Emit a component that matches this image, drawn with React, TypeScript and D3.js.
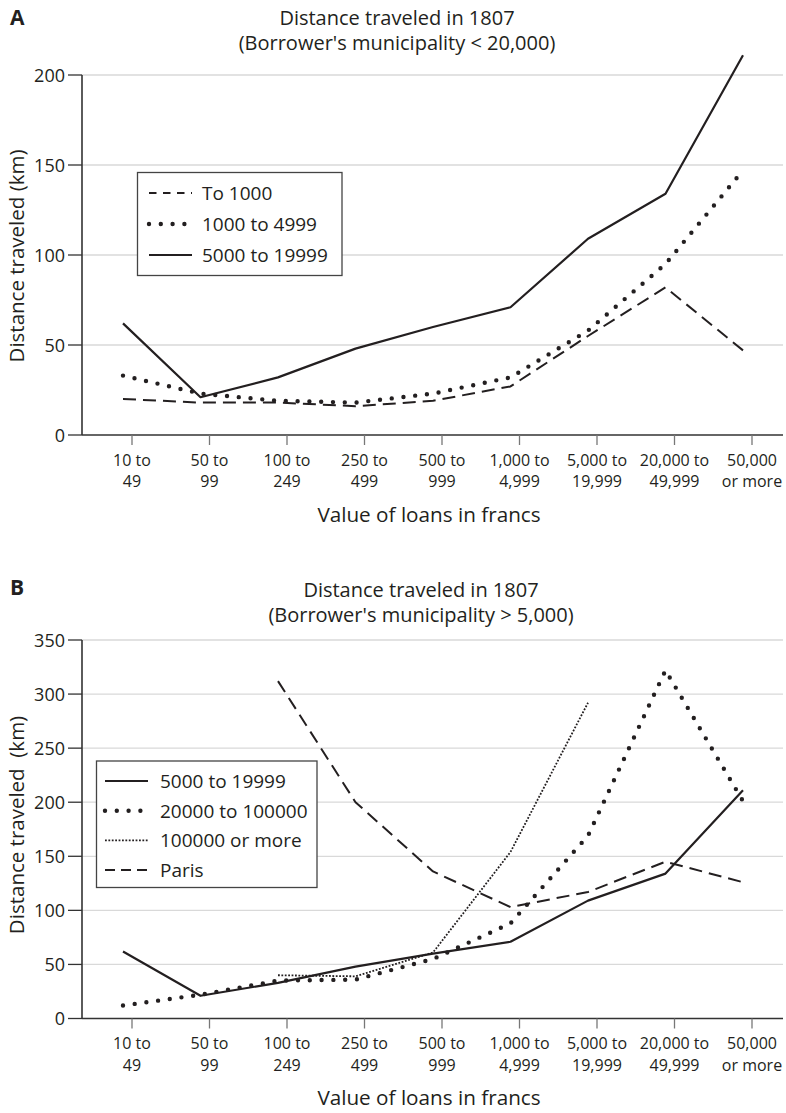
import React from "react";
import * as d3 from "d3";

const categories = [
  "10 to\n49",
  "50 to\n99",
  "100 to\n249",
  "250 to\n499",
  "500 to\n999",
  "1,000 to\n4,999",
  "5,000 to\n19,999",
  "20,000 to\n49,999",
  "50,000\nor more",
];

// panel A: borrower's municipality < 20,000
const aTo1000 = [20, 18, 18, 16, 19, 27, 55, 82, 47];
const a1000to4999 = [33, 23, 19, 18, 23, 32, 58, 95, 147];
const a5000to19999 = [62, 21, 32, 48, 60, 71, 109, 134, 211];
const aTicks = [0, 50, 100, 150, 200];

// panel B: borrower's municipality > 5,000
const b5000to19999 = [62, 21, 33, 48, 60, 71, 109, 134, 211];
const b20000to100000 = [12, 22, 35, 36, 55, 88, 169, 322, 201];
const b100000plus = [null, null, 40, 39, 61, 154, 292, null, null];
const bParis = [null, null, 312, 200, 136, 103, 117, 145, 126];
const bTicks = [0, 50, 100, 150, 200, 250, 300, 350];

const INK = "#231f20";
const FONT = "'Open Sans', 'Noto Sans', sans-serif";

type Style = { dash?: string; legendDash?: string; width: number; cap?: string };
const SOLID: Style = { width: 2.2 };
const DASHED: Style = { dash: "13,7", legendDash: "7.5,6.5", width: 2 };
const PARIS: Style = { dash: "13,7", legendDash: "10,6", width: 2 };
const DOTS: Style = { dash: "0,11.8", width: 4.4, cap: "round" };
const FINE: Style = { dash: "1.8,1.6", width: 1.8 };

type Series = { name: string; values: (number | null)[]; style: Style };

type PanelProps = {
  letter: string;
  letterY: number;
  title: string[];
  titleX: number;
  titleY: number;
  yLabel: string;
  yLabelMid: number;
  ticks: number[];
  yTop: number;
  yBase: number;
  series: Series[];
  legend: { x: number; y: number; w: number; h: number; rowY: number; rowGap: number; lineX: number; textX: number };
  xTitleY: number;
};

const xLeft = 82;
const xRight = 783;
const xTick = d3.scalePoint<string>().domain(categories).range([132, 752]);
const xData = d3.scalePoint<string>().domain(categories).range([123, 743]);

function Panel(p: PanelProps) {
  const yMax = p.ticks[p.ticks.length - 1];
  const y = d3.scaleLinear().domain([0, yMax]).range([p.yBase, p.yTop]);
  const line = d3
    .line<number | null>()
    .defined((d) => d != null)
    .x((_, i) => xData(categories[i]) as number)
    .y((d) => y(d as number));

  return (
    <g>
      <text x={10} y={p.letterY} fontSize={21} fontWeight="bold" fill={INK} fontFamily={FONT}>
        {p.letter}
      </text>
      {p.title.map((t, i) => (
        <text key={i} x={p.titleX} y={p.titleY + i * 25} textAnchor="middle" fontSize={20} fill={INK} fontFamily={FONT}>
          {t}
        </text>
      ))}

      {/* gridlines */}
      {p.ticks
        .filter((t) => t > 0)
        .map((t) => (
          <line key={t} x1={xLeft} x2={xRight} y1={y(t)} y2={y(t)} stroke="#d9d9d9" strokeWidth={1.3} />
        ))}

      {/* y axis */}
      <line x1={xLeft} x2={xLeft} y1={p.yBase} y2={p.yTop} stroke="#333" strokeWidth={1.6} />
      {p.ticks.map((t) => (
        <g key={t}>
          <line x1={68} x2={xLeft} y1={y(t)} y2={y(t)} stroke="#333" strokeWidth={1.3} />
          <text x={65} y={y(t) + 6.5} textAnchor="end" fontSize={18} fill={INK} fontFamily={FONT}>
            {t}
          </text>
        </g>
      ))}
      <text
        transform={`translate(24,${p.yLabelMid}) rotate(-90)`}
        textAnchor="middle"
        fontSize={20.5}
        fill={INK}
        fontFamily={FONT}
        style={{ whiteSpace: "pre" }}
      >
        {p.yLabel}
      </text>

      {/* x axis */}
      <line x1={xLeft} x2={xRight} y1={p.yBase} y2={p.yBase} stroke="#333" strokeWidth={1.6} />
      {categories.map((c) => (
        <g key={c}>
          <line x1={xTick(c)} x2={xTick(c)} y1={p.yBase} y2={p.yBase + 10} stroke="#777" strokeWidth={1.3} />
          {c.split("\n").map((s, i) => (
            <text key={i} x={xTick(c)} y={p.yBase + 30.5 + i * 21.8} textAnchor="middle" fontSize={16} fill={INK} fontFamily={FONT}>
              {s}
            </text>
          ))}
        </g>
      ))}
      <text x={429} y={p.xTitleY} textAnchor="middle" fontSize={20.7} fill={INK} fontFamily={FONT}>
        Value of loans in francs
      </text>

      {/* series */}
      {p.series.map((s) => (
        <path
          key={s.name}
          d={line(s.values) || ""}
          fill="none"
          stroke={INK}
          strokeWidth={s.style.width}
          strokeDasharray={s.style.dash}
          strokeLinecap={(s.style.cap as any) || "butt"}
          strokeLinejoin="round"
        />
      ))}

      {/* legend */}
      <rect x={p.legend.x} y={p.legend.y} width={p.legend.w} height={p.legend.h} fill="#fff" stroke="#444" strokeWidth={1.3} />
      {p.series.map((s, i) => {
        const by = p.legend.rowY + i * p.legend.rowGap;
        return (
          <g key={s.name}>
            <line
              x1={p.legend.lineX}
              x2={p.legend.lineX + 43}
              y1={by - 7}
              y2={by - 7}
              stroke={INK}
              strokeWidth={s.style.width}
              strokeDasharray={s.style.legendDash || s.style.dash}
              strokeLinecap={(s.style.cap as any) || "butt"}
            />
            <text x={p.legend.textX} y={by} fontSize={19} fill={INK} fontFamily={FONT}>
              {s.name}
            </text>
          </g>
        );
      })}
    </g>
  );
}

export default function App() {
  return (
    <svg width={786} height={1113} style={{ position: "absolute", left: 0, top: 0, background: "#fff" }}>
      <rect width={786} height={1113} fill="#fff" />
      <Panel
        letter="A"
        letterY={25}
        title={["Distance traveled in 1807", "(Borrower's municipality < 20,000)"]}
        titleX={397}
        titleY={25}
        yLabel="Distance traveled (km)"
        yLabelMid={256}
        ticks={aTicks}
        yTop={75}
        yBase={435}
        series={[
          { name: "To 1000", values: aTo1000, style: DASHED },
          { name: "1000 to 4999", values: a1000to4999, style: DOTS },
          { name: "5000 to 19999", values: a5000to19999, style: SOLID },
        ]}
        legend={{ x: 137.5, y: 172.5, w: 204.5, h: 103, rowY: 200, rowGap: 31, lineX: 149, textX: 202 }}
        xTitleY={522}
      />
      <Panel
        letter="B"
        letterY={595}
        title={["Distance traveled in 1807", "(Borrower's municipality > 5,000)"]}
        titleX={421}
        titleY={597}
        yLabel="Distance traveled  (km)"
        yLabelMid={825}
        ticks={bTicks}
        yTop={640}
        yBase={1018.5}
        series={[
          { name: "5000 to 19999", values: b5000to19999, style: SOLID },
          { name: "20000 to 100000", values: b20000to100000, style: DOTS },
          { name: "100000 or more", values: b100000plus, style: FINE },
          { name: "Paris", values: bParis, style: PARIS },
        ]}
        legend={{ x: 96.5, y: 761, w: 220.5, h: 126.5, rowY: 788, rowGap: 29.7, lineX: 105, textX: 160 }}
        xTitleY={1105}
      />
    </svg>
  );
}
